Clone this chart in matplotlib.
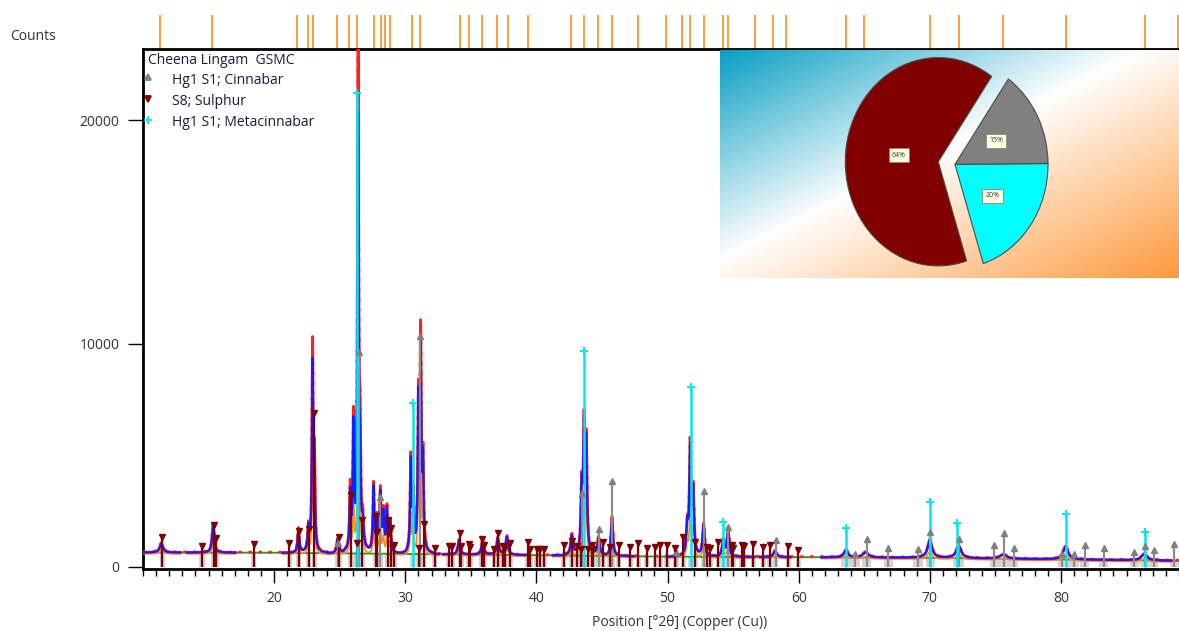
import numpy as np
import matplotlib.pyplot as plt
from matplotlib.ticker import MultipleLocator
from matplotlib.colors import LinearSegmentedColormap
from matplotlib.transforms import blended_transform_factory

plt.rcParams['font.family'] = ['Open Sans', 'DejaVu Sans']

# %%
# reference patterns (position °2θ, counts)
cinnabar_pos = [24.85, 26.5, 28.1, 31.15, 43.45, 44.74, 45.76, 50.66, 52.77, 54.6, 58.25,
                64.3, 65.2, 66.83, 69.1, 70.05, 72.25, 74.9, 75.65, 76.4, 80.1, 81.03,
                81.8, 83.25, 85.6, 86.4, 87.07, 88.65]
cinnabar_cnt = [1060, 9600, 3130, 10330, 3300, 1700, 3860, 690, 3410, 1780, 1200,
                600, 1250, 870, 820, 1580, 1250, 980, 1540, 850, 600, 600,
                980, 850, 670, 940, 760, 1030]

sulphur_pos = [11.46, 14.5, 15.39, 15.6, 18.44, 21.16, 21.87, 22.63, 23.06, 24.97, 25.86,
               26.32, 26.72, 27.77, 27.85, 28.68, 28.93, 29.16, 31.01, 31.4, 32.23, 33.3,
               33.56, 34.19, 34.27, 34.83, 34.95, 35.84, 36.04, 36.78, 37.06, 37.45, 37.62,
               38.0, 39.35, 39.53, 40.04, 40.29, 40.6, 42.07, 42.7, 43.09, 43.39, 43.97,
               44.23, 44.35, 45.11, 45.62, 46.26, 47.15, 47.78, 48.42, 49.06, 49.44, 49.95,
               50.58, 51.21, 52.1, 52.99, 53.25, 53.88, 54.9, 55.02, 55.66, 55.8, 56.55,
               57.3, 57.8, 59.2, 59.97]
sulphur_cnt = [1330, 950, 1880, 1280, 1015, 1060, 1610, 1690, 6875, 1330, 3220,
               1060, 2100, 2280, 1580, 2100, 1760, 985, 835, 1910, 835, 940,
               940, 1510, 940, 1015, 880, 1240, 985, 790, 1535, 940, 880,
               1090, 1100, 790, 790, 790, 790, 985, 1180, 940, 790, 790,
               1000, 790, 1100, 900, 1000, 900, 1070, 850, 900, 1000, 1000,
               850, 1360, 1130, 900, 850, 1100, 1000, 850, 1000, 950, 1050,
               900, 1000, 950, 760]

meta_pos = [26.3, 30.56, 43.64, 51.75, 54.25, 63.6, 70.05, 72.1, 80.4, 86.4]
meta_cnt = [21200, 7340, 9680, 8070, 2030, 1730, 2920, 1950, 2370, 1580]

# fitted peaks: position, calculated / observed height above background, fwhm
peak_pos = [11.4, 15.35, 21.85, 22.62, 22.93, 23.07, 24.85, 25.8, 26.05, 26.4, 26.55,
            26.75, 27.58, 27.85, 28.1, 28.33, 28.6, 28.85, 30.42, 30.6, 31.0, 31.17,
            31.35, 34.1, 35.9, 37.05, 37.75, 42.7, 43.45, 43.63, 43.8, 44.74, 45.76,
            51.5, 51.72, 51.95, 52.75, 54.25, 54.62, 58.2, 63.6, 65.1, 70.0, 72.2,
            75.6, 80.35, 86.35]
calc_amp = [380, 1160, 1030, 1050, 8200, 3600, 600, 2500, 5500, 19100, 3600,
            1100, 2900, 1400, 2500, 1700, 1850, 1350, 4000, 2400, 6500, 8700,
            3900, 600, 600, 700, 800, 850, 2760, 5300, 4600, 750, 1700,
            1300, 4660, 2800, 1400, 700, 1100, 250, 320, 220, 780, 520,
            180, 560, 280]
obs_amp = [420, 1250, 1080, 1100, 9100, 3900, 650, 2750, 5800, 23500, 4400,
           1200, 3050, 1500, 2650, 1800, 1950, 1400, 4200, 2500, 6700, 9400,
           4000, 650, 650, 750, 850, 900, 2850, 5450, 4750, 800, 1750,
           1350, 4850, 2900, 1450, 750, 1150, 280, 340, 240, 820, 560,
           200, 600, 300]
peak_fwhm = [0.3, 0.2, 0.15, 0.15, 0.11, 0.11, 0.2, 0.12, 0.12, 0.11, 0.11,
             0.15, 0.12, 0.15, 0.12, 0.15, 0.12, 0.14, 0.12, 0.12, 0.11, 0.11,
             0.12, 0.2, 0.2, 0.2, 0.2, 0.2, 0.14, 0.14, 0.14, 0.2, 0.17,
             0.16, 0.14, 0.16, 0.18, 0.2, 0.2, 0.3, 0.35, 0.5, 0.4, 0.45,
             0.6, 0.45, 0.5]

bg_x = [10, 20, 30, 40, 50, 60, 70, 80, 89]
bg_y = [650, 640, 585, 530, 465, 440, 410, 340, 280]

# peak list markers on top
list_pos = [11.33, 15.23, 21.74, 22.55, 22.98, 24.77, 25.74, 26.30, 27.65, 28.16, 28.49,
            28.85, 30.51, 31.12, 34.15, 34.84, 35.86, 37.0, 37.83, 39.32, 42.65, 43.60,
            44.67, 45.77, 47.74, 49.91, 51.12, 51.73, 52.79, 54.23, 54.61, 56.70, 58.03,
            59.05, 63.60, 65.01, 69.99, 72.26, 75.56, 80.42, 86.38, 88.96]

# pie inset
phase_names = ['Sulphur', 'Metacinnabar', 'Cinnabar']
phase_share = [64, 20, 15]
phase_colors = ['#800000', '#00ffff', '#808080']
pct_labels = ['64%', '20%', '15%']

# %%
x = np.arange(10.0, 89.0, 0.01)
bg = np.interp(x, bg_x, bg_y)


def profile(amps):
    y = np.zeros_like(x)
    for p, a, w in zip(peak_pos, amps, peak_fwhm):
        d = x - p
        shape = a / (1 + (2 * d / w) ** 2)
        shape[np.abs(d) > 10 * w] = 0
        y += shape
    return y


calc_peaks = profile(calc_amp)
obs_peaks = profile(obs_amp)
on_peak = calc_peaks > 4
calc = np.where(on_peak, bg + calc_peaks, np.nan)
obs = bg + obs_peaks
obs_on = np.where(on_peak, obs, np.nan)
kalpha = np.where(on_peak, bg - 60 + 0.45 * calc_peaks, np.nan)

fig = plt.figure(figsize=(11.79, 6.31), dpi=100)
ax = fig.add_axes([143 / 1179, 1 - 569 / 631, 1036 / 1179, 520 / 631])

# grey shading under reference lines
all_pos = np.array(cinnabar_pos + sulphur_pos + meta_pos)
shade_w = np.where(all_pos < 60, 0.4, 0.7)
ax.bar(all_pos, np.interp(all_pos, bg_x, bg_y), width=shade_w, color='#d4d4d4', zorder=1)

ax.plot(bg_x, bg_y, color='#1f9a1f', lw=1.3, zorder=2)
ax.plot(x, obs + 20, color='#ff2020', lw=2.0, ls=(0, (1.2, 2.4)), zorder=3)
ax.plot(x, kalpha, color='#ff8c1a', lw=1.2, zorder=3)
ax.plot(x, obs_on, color='#ff2020', lw=2.0, zorder=4)
ax.plot(x, calc, color='#1a1aff', lw=1.5, zorder=5)

ax.vlines(cinnabar_pos, 0, cinnabar_cnt, color='#8c8c8c', lw=1.6, zorder=6)
ax.vlines(sulphur_pos, 0, sulphur_cnt, color='#800000', lw=1.6, zorder=6)
ax.vlines(meta_pos, 0, meta_cnt, color='#00e8f0', lw=1.8, zorder=6)
ax.plot(cinnabar_pos, cinnabar_cnt, ls='none', marker='^', ms=4.5, color='#808080', zorder=7)
ax.plot(sulphur_pos, sulphur_cnt, ls='none', marker='v', ms=5, color='#800000', zorder=7)
ax.plot(meta_pos, meta_cnt, ls='none', marker='+', ms=6, mew=1.4, color='#00e8f0', zorder=7)

trans = blended_transform_factory(ax.transData, ax.transAxes)
ax.vlines(list_pos, 1.0, 1.065, color='#ff8c1a', lw=1.2, transform=trans, clip_on=False)

ax.set_xlim(10.0, 89.0)
ax.set_ylim(-90, 23180)
ax.set_xticks([20, 30, 40, 50, 60, 70, 80])
ax.xaxis.set_minor_locator(MultipleLocator(1))
ax.set_yticks([0, 10000, 20000])
ax.tick_params(axis='x', which='major', length=10, width=1, pad=6, labelsize=10, labelcolor='#333333')
ax.tick_params(axis='x', which='minor', length=5, width=1)
ax.tick_params(axis='y', length=11, width=1, pad=6, labelsize=10, labelcolor='#333333')
for s in ['left', 'bottom', 'top']:
    ax.spines[s].set_linewidth(2)
ax.spines['right'].set_visible(False)

fig.text(10 / 1179, 1 - 37 / 631, 'Counts', fontsize=10, color='#333333', va='center')
fig.text(680 / 1179, 1 - 622 / 631, 'Position [°2θ] (Copper (Cu))', fontsize=10,
         color='#333333', ha='center', va='center')

# legend
fig.text(148 / 1179, 1 - 60 / 631, 'Cheena Lingam  GSMC', fontsize=10, color='#1a1a3a', va='center')
leg_labels = ['Hg1 S1; Cinnabar', 'S8; Sulphur', 'Hg1 S1; Metacinnabar']
leg_marks = [('^', '#808080', 4.5), ('v', '#800000', 5), ('+', '#00e8f0', 6)]
for i, (lab, (m, c, s)) in enumerate(zip(leg_labels, leg_marks)):
    ypx = 80 + i * 21.5
    fig.text(172 / 1179, 1 - ypx / 631, lab, fontsize=10, color='#1a1a3a', va='center')
    fig.lines.append(plt.Line2D([148 / 1179], [1 - (ypx - 3) / 631], marker=m, color=c, ms=s,
                                mew=1.3, ls='none', transform=fig.transFigure))

# pie inset with gradient background
yscale = 1.12
axp = fig.add_axes([720 / 1179, 1 - 278 / 631, 459 / 1179, 228 / 631])
cmap = LinearSegmentedColormap.from_list('bgfill', [(0, '#0a9fc4'), (0.46, '#ffffff'), (1, '#fe9a3e')])
gx, gy = np.meshgrid(np.linspace(0, 1, 300), np.linspace(0, 1, 150))
axp.imshow((gx + gy) / 2, cmap=cmap, extent=(0, 459, 0, 228 / yscale), origin='upper',
           aspect='auto', zorder=0)
wedges, _ = axp.pie(phase_share, colors=phase_colors, startangle=55, counterclock=True,
                    radius=93, center=(0, 0), frame=True,
                    wedgeprops=dict(edgecolor='#4a4a4a', linewidth=0.8))
centers = [(218.3, 103.8), (235, 101.5), (235, 101.5)]
label_xy = [(179, 109.8), (272.7, 73.5), (276, 122.6)]
for w, c, lab, (lx, ly) in zip(wedges, centers, pct_labels, label_xy):
    w.set_center(c)
    w.set_zorder(2)
    axp.text(lx, ly, lab, fontsize=5, ha='center', va='center', zorder=3, color='#333333',
             bbox=dict(boxstyle='square,pad=0.5', fc='#ffffe6', ec='#8a8a6a', lw=0.6))
axp.set_aspect('auto')
axp.set_xlim(0, 459)
axp.set_ylim(0, 228 / yscale)
axp.axis('off')

fig.savefig('out.png', dpi=100)
